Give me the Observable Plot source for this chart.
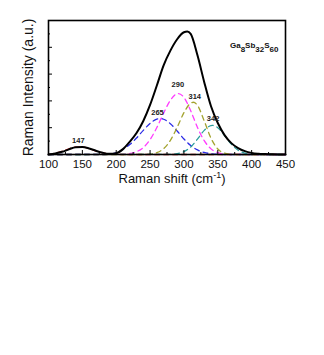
<!DOCTYPE html>
<html><head><meta charset="utf-8">
<script src="https://cdn.jsdelivr.net/npm/d3@7"></script>
<script src="https://cdn.jsdelivr.net/npm/@observablehq/plot@0.6"></script>
<style>
body{margin:0;background:#fff;}
#chart svg{font-family:"Liberation Sans",Arial,sans-serif;}
</style>
</head><body><div id="chart"></div>
<script>
// Axis ticks
const xTicks = [100,150,200,250,300,350,400,450];
const xMinorTicks = [125,175,225,275,325,375,425];
const yMajorTicks = [2,4,6,8];
const yMinorTicks = [1,3,5,7,9];

// Measured total spectrum (black)
const totalShift = [100,110,120,130,140,150,160,170,180,190,200,210,220,230,240,250,260,270,280,290,300,305,310,320,330,340,350,360,370,380,390,400,410,420,430,440,450];
const totalIntensity = [0.0,0.08,0.2,0.38,0.55,0.56,0.45,0.28,0.13,0.05,0.1,0.4,0.95,1.6,2.5,3.7,5.15,6.65,7.75,8.6,9.12,9.17,9.0,7.4,5.4,3.6,2.35,1.45,0.85,0.48,0.25,0.12,0.06,0.03,0.01,0.0,0.0];

// Fitted components (dashed)
const peak147Shift = [100,110,120,130,140,150,160,170,180,190,200,210,450];
const peak147Intensity = [0.02,0.1,0.24,0.42,0.55,0.55,0.43,0.26,0.12,0.04,0.01,0.0,0.0];

const peak265Shift = [100,180,190,200,210,220,230,240,250,260,265,270,280,290,300,310,320,330,340,350,360,450];
const peak265Intensity = [0.0,0.0,0.03,0.12,0.39,0.74,1.23,1.8,2.32,2.64,2.68,2.63,2.3,1.75,1.16,0.67,0.34,0.15,0.06,0.02,0.0,0.0];

const peak290Shift = [100,210,220,230,240,250,260,270,280,290,292,300,310,320,330,340,350,360,370,450];
const peak290Intensity = [0.0,0.01,0.07,0.21,0.52,1.11,2.01,3.09,4.05,4.54,4.55,4.26,3.26,2.02,1.03,0.42,0.14,0.04,0.01,0.0];

const peak314Shift = [100,240,250,260,270,280,290,300,310,314,320,330,340,350,360,370,380,450];
const peak314Intensity = [0.0,0.0,0.03,0.14,0.43,1.05,2.03,3.12,3.83,3.9,3.67,2.5,1.21,0.41,0.1,0.02,0.0,0.0];

const peak342Shift = [100,280,290,300,310,320,330,340,342,350,360,370,380,390,400,410,420,450];
const peak342Intensity = [0.0,0.01,0.06,0.21,0.56,1.15,1.8,2.16,2.17,2.0,1.42,0.77,0.32,0.1,0.03,0.01,0.0,0.0];

const componentNames = ["147","265","290","314","342"];
const componentColors = ["#e32626","#2b2be6","#ff3cff","#a3a32e","#2a9d9d"];

// Peak annotations
const peakLabels = ["147","265","290","314","342"];
const peakLabelShift = [144,261,291,316,343];
const peakLabelIntensity = [1.05,3.1,5.25,4.3,2.7];

const composition = "Ga8Sb32S60";
const xTitle = "Raman shift (cm-1)";
const yTitle = "Raman Intensity (a.u.)";

const toRows = (xs, ys, name) => xs.map((x, i) => ({shift: x, intensity: ys[i], name}));
const totalRows = toRows(totalShift, totalIntensity, "total");
const componentRows = [
  toRows(peak147Shift, peak147Intensity, "147"),
  toRows(peak265Shift, peak265Intensity, "265"),
  toRows(peak290Shift, peak290Intensity, "290"),
  toRows(peak314Shift, peak314Intensity, "314"),
  toRows(peak342Shift, peak342Intensity, "342")
];
const labelRows = peakLabels.map((t, i) => ({text: t, shift: peakLabelShift[i], intensity: peakLabelIntensity[i]}));

const svg = Plot.plot({
  width: 324,
  height: 200,
  marginLeft: 48,
  marginRight: 39,
  marginTop: 20,
  marginBottom: 46,
  style: {fontFamily: '"Liberation Sans", Arial, sans-serif', background: "#fff"},
  x: {domain: [100, 450], axis: null},
  y: {domain: [0, 10], axis: null},
  marks: [
    ...componentRows.map((rows, i) => Plot.line(rows, {
      x: "shift", y: "intensity", stroke: componentColors[i],
      strokeWidth: 1.3, strokeDasharray: "5,4", curve: "monotone-x"
    })),
    Plot.line(totalRows, {x: "shift", y: "intensity", stroke: "#000", strokeWidth: 2, curve: "monotone-x"}),
    Plot.tickX(xTicks, {x: d => d, insetTop: 130, stroke: "#000", strokeWidth: 1}),
    Plot.tickX(xMinorTicks, {x: d => d, insetTop: 132, stroke: "#000", strokeWidth: 1}),
    Plot.tickY(yMajorTicks, {y: d => d, insetRight: 233, stroke: "#000", strokeWidth: 1}),
    Plot.tickY(yMinorTicks, {y: d => d, insetRight: 235, stroke: "#000", strokeWidth: 1}),
    Plot.axisX(xTicks, {tickSize: 0, tickPadding: 5, fontSize: 11.5, label: null, fill: "#111"}),
    Plot.text(labelRows, {x: "shift", y: "intensity", text: "text", fontSize: 7.5, fontWeight: "bold", fill: "#222"}),
    Plot.text([composition], {frameAnchor: "top-right", dx: -7, dy: 22, lineAnchor: "top", textAnchor: "end", fontSize: 8, fontWeight: "bold", fill: "#111"}),
    Plot.text([xTitle], {frameAnchor: "bottom", dx: 5, dy: 28, fontSize: 13, fill: "#111"}),
    Plot.text([yTitle], {frameAnchor: "left", textAnchor: "middle", rotate: -90, dx: -20, fontSize: 14, fill: "#111"}),
    Plot.frame({stroke: "#000", strokeWidth: 1.6})
  ]
});

// Sub/superscripts as real text
d3.select(svg).selectAll("text").each(function() {
  const t = d3.select(this);
  if (this.textContent === composition) {
    t.text("");
    const parts = [["Ga",0],["8",1],["Sb",0],["32",1],["S",0],["60",1]];
    let prev = 0;
    parts.forEach(([s, sub]) => {
      const shift = sub ? 4 : 0;
      t.append("tspan").attr("dy", shift - prev).text(s);
      prev = shift;
    });
  } else if (this.textContent === xTitle) {
    t.text("");
    t.append("tspan").text("Raman shift (cm");
    t.append("tspan").attr("dy", -5).attr("font-size", 9).text("-1");
    t.append("tspan").attr("dy", 5).text(")");
  }
});

document.getElementById("chart").appendChild(svg);
</script>
</body></html>
